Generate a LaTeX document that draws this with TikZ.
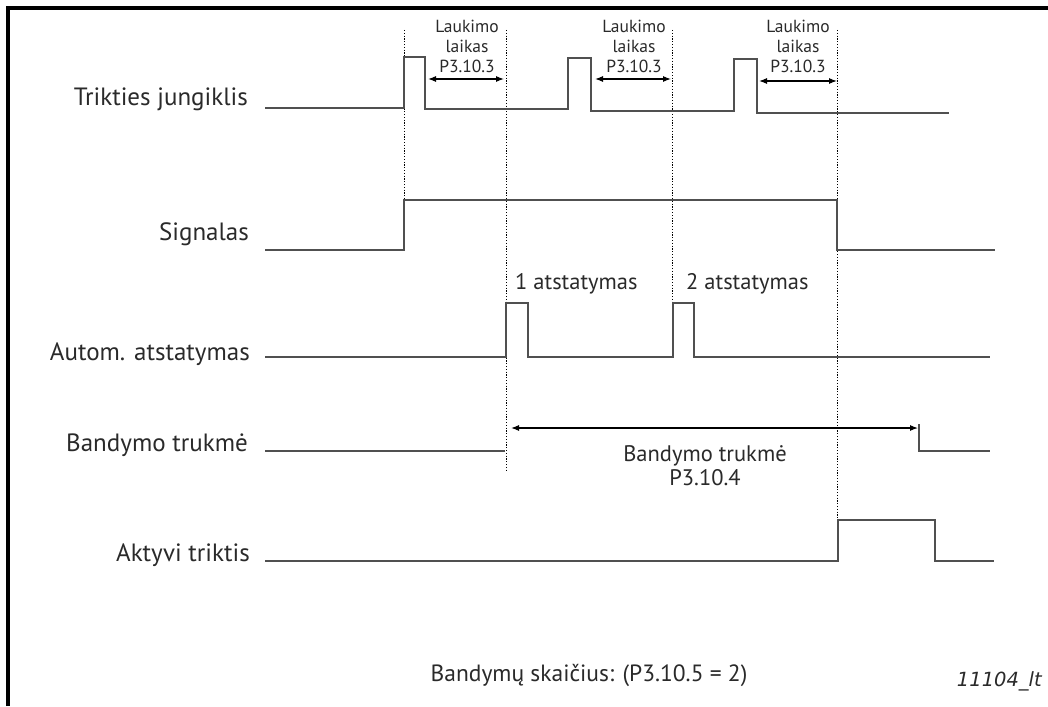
\documentclass[tikz,border=0pt]{standalone}
\usepackage{fontspec}
\setmainfont{PT Sans}
\newfontfamily\codefont{DejaVu Sans}
\usetikzlibrary{arrows.meta}
\definecolor{sig}{HTML}{505050}
\definecolor{txt}{HTML}{2A2A2A}
\begin{document}
\begin{tikzpicture}[x=1pt,y=-1pt,
  signal/.style={draw=sig, line width=1.6pt, line join=miter},
  guide/.style={draw=black, line width=0.9pt, dash pattern=on 1.2pt off 1.6pt},
  span/.style={draw=black, line width=1.1pt, {Latex[length=8pt,width=6pt]}-{Latex[length=8pt,width=6pt]}},
  lbl/.style={anchor=base east, text=txt, font=\fontsize{25}{28}\selectfont, inner sep=0pt},
  wait/.style={anchor=north, text=txt, font=\fontsize{17.5}{20}\selectfont, align=center, inner sep=0pt},
  note/.style={text=txt, font=\fontsize{22.5}{25}\selectfont, inner sep=0pt},
]
\useasboundingbox (0,0) rectangle (1048,706);
\fill[white] (0,0) rectangle (1048,706);
% frame
\draw[line width=3.5pt] (8,706) -- (8,8) -- (1048,8);

% time markers
\draw[guide] (404,30) -- (404,200);
\draw[guide] (506,30) -- (506,470);
\draw[guide] (672,30) -- (672,355);
\draw[guide] (837,30) -- (837,520);

% row labels
\node[lbl] (l1) at (248,106) {Trikties jungiklis};
\node[lbl] (l2) at (249,240) {Signalas};
\node[lbl] (l3) at (250,360) {Autom. atstatymas};
\node[lbl] (l4) at (248,451) {Bandymo trukmė};
\node[lbl] (l5) at (250,561) {Aktyvi triktis};

% fault switch
\draw[signal] (265,108) -- (404,108) -- (404,57) -- (425,57) -- (425,109) -- (568,109)
  -- (568,58) -- (591,58) -- (591,111) -- (734,111) -- (734,59) -- (757,59) -- (757,113) -- (949,113);
% signal
\draw[signal] (265,250) -- (404,250) -- (404,200) -- (837,200) -- (837,250) -- (995,250);
% auto reset
\draw[signal] (265,357) -- (506,357) -- (506,303) -- (528,303) -- (528,357) -- (673,357)
  -- (673,303) -- (694,303) -- (694,357) -- (990,357);
% trial time
\draw[signal] (265,451) -- (505,451);
\draw[signal] (919,424) -- (919,451) -- (990,451);
% active fault
\draw[signal] (265,561) -- (838,561) -- (838,520) -- (935,520) -- (935,561) -- (994,561);

% wait time spans
\coordinate (w1a) at (428,79); \coordinate (w1b) at (504,79);
\coordinate (w2a) at (595,79); \coordinate (w2b) at (671,79);
\coordinate (w3a) at (759,81); \coordinate (w3b) at (837,81);
\draw[span] (w1a) -- (w1b);
\draw[span] (w2a) -- (w2b);
\draw[span] (w3a) -- (w3b);
\node[wait] (t1) at (467,20) {Laukimo\\laikas\\P3.10.3};
\node[wait] (t2) at (634,20) {Laukimo\\laikas\\P3.10.3};
\node[wait] (t3) at (798,20) {Laukimo\\laikas\\P3.10.3};

% reset labels
\node[note, anchor=base west] (r1) at (515,289) {1 atstatymas};
\node[note, anchor=base west] (r2) at (686,289) {2 atstatymas};

% trial time span
\coordinate (ta) at (511,428); \coordinate (tb) at (918,428);
\draw[span] (ta) -- (tb);
\node[note, anchor=base] (tt) at (705,461) {Bandymo trukmė};
\node[note, anchor=base] (tp) at (705,485) {P3.10.4};

% footer
\node[note, anchor=base, font=\fontsize{23.5}{26}\selectfont] (ft) at (589,681) {Bandymų skaičius: (P3.10.5 = 2)};
\node[anchor=base east, text=txt, font=\codefont\itshape\fontsize{19.5}{22}\selectfont, inner sep=0pt] (id) at (1042,686) {11104\_lt};
\end{tikzpicture}
\end{document}
